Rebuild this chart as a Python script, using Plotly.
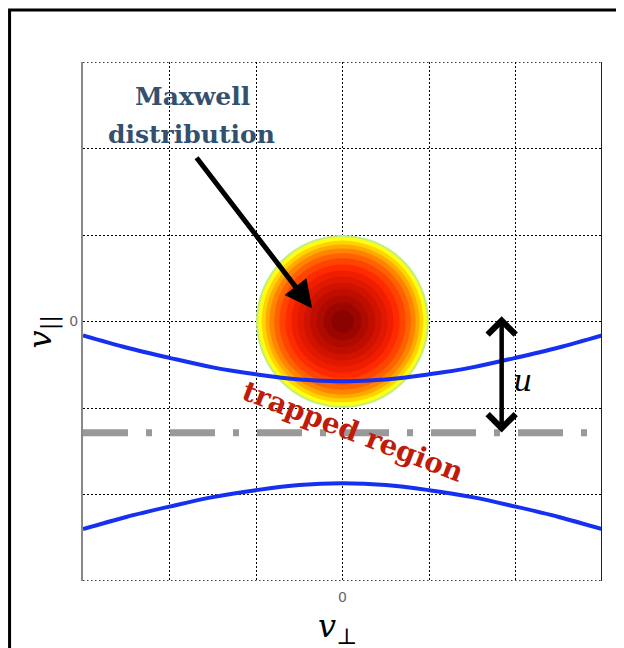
import plotly.graph_objects as go

# ---- data ----
curve_x = [-3.0, -2.5, -2.0, -1.5, -1.0, -0.5, 0.0, 0.5, 1.0, 1.5, 2.0, 2.5, 3.0]
upper_y = [-0.16, -0.30, -0.42, -0.53, -0.61, -0.67, -0.69, -0.67, -0.61, -0.53, -0.42, -0.30, -0.16]
lower_y = [-2.40, -2.26, -2.14, -2.03, -1.95, -1.89, -1.87, -1.89, -1.95, -2.03, -2.14, -2.26, -2.40]
trap_x = [-3.0, 3.0]
trap_y = [-1.285, -1.285]

# Maxwell distribution: filled contour rings (outer -> inner)
ring_radius = [1.00, 0.975, 0.935, 0.89, 0.845, 0.79, 0.73, 0.66, 0.59, 0.52, 0.45, 0.38, 0.30, 0.22, 0.13]
ring_color = ["#c4ee80", "#ffff10", "#ffd400", "#ffaa00", "#ff8400", "#ff6200", "#ff4400",
              "#ff2a00", "#f01e00", "#e01800", "#d01300", "#bf0e00", "#ad0a00", "#9c0600", "#8a0300"]
ring_center = (0.0, 0.0)

axis_range = [-3, 3]
grid_step = 1
tick_vals = [0]
tick_text = ["0"]

arrow_tail = (-1.70, 1.91)
arrow_tip = (-0.35, 0.15)
u_top = (1.84, 0.06)
u_bottom = (1.84, -1.30)

fig = go.Figure()

fig.add_trace(go.Scatter(x=curve_x, y=upper_y, mode="lines", line=dict(color="#1530f0", width=4, shape="spline"),
                         hoverinfo="skip", showlegend=False))
fig.add_trace(go.Scatter(x=curve_x, y=lower_y, mode="lines", line=dict(color="#1530f0", width=4, shape="spline"),
                         hoverinfo="skip", showlegend=False))
fig.add_trace(go.Scatter(x=trap_x, y=trap_y, mode="lines",
                         line=dict(color="#999999", width=7, dash="45px,18px,6px,18px"),
                         hoverinfo="skip", showlegend=False))

shapes = []
for r, c in zip(ring_radius, ring_color):
    shapes.append(dict(type="circle", xref="x", yref="y", layer="between",
                       x0=ring_center[0] - r, x1=ring_center[0] + r,
                       y0=ring_center[1] - r, y1=ring_center[1] + r,
                       fillcolor=c, line=dict(width=0)))
# top / bottom dotted box edges
for yv in axis_range:
    shapes.append(dict(type="line", xref="x", yref="y", x0=axis_range[0], x1=axis_range[1], y0=yv, y1=yv,
                       line=dict(color="black", width=1.3, dash="1.5px,2.5px"), layer="above"))
# right box edge solid black
shapes.append(dict(type="line", xref="x", yref="y", x0=axis_range[1], x1=axis_range[1],
                   y0=axis_range[0], y1=axis_range[1], line=dict(color="#222222", width=2), layer="above"))
# outer frame
shapes.append(dict(type="rect", xref="paper", yref="paper", x0=-0.1415, x1=1.25, y0=-0.25, y1=1.1,
                   line=dict(color="black", width=3), fillcolor="rgba(0,0,0,0)", layer="above"))

annotations = [
    dict(x=-1.73, y=2.60, xref="x", yref="y", text="Maxwell", showarrow=False,
         font=dict(family="DejaVu Serif", size=25, color="#34506f", weight="bold"),
         xanchor="center", yanchor="middle"),
    dict(x=-1.74, y=2.16, xref="x", yref="y", text="distribution", showarrow=False,
         font=dict(family="DejaVu Serif", size=25, color="#34506f", weight="bold"),
         xanchor="center", yanchor="middle"),
    dict(x=arrow_tip[0], y=arrow_tip[1], ax=arrow_tail[0], ay=arrow_tail[1], xref="x", yref="y",
         axref="x", ayref="y", text="", showarrow=True, arrowhead=2, arrowsize=1.1, arrowwidth=5,
         arrowcolor="black", standoff=0),
    dict(x=u_top[0], y=u_top[1], ax=u_bottom[0], ay=u_bottom[1], xref="x", yref="y",
         axref="x", ayref="y", text="", showarrow=True, arrowside="end+start", arrowhead=4,
         startarrowhead=4, arrowsize=1.2, startarrowsize=1.2, arrowwidth=4.5, arrowcolor="black",
         standoff=0, startstandoff=0),
    dict(x=2.08, y=-0.68, xref="x", yref="y", text="<i>u</i>", showarrow=False,
         font=dict(family="DejaVu Serif", size=30, color="black")),
    dict(x=0.12, y=-1.27, xref="x", yref="y", text="trapped region", showarrow=False, textangle=21,
         font=dict(family="DejaVu Serif", size=28, color="#c01c0c", weight="bold")),
    dict(x=0.491, y=-0.09, xref="paper", yref="paper", text="<i>v</i><sub>⊥</sub>", showarrow=False,
         xanchor="center", yanchor="middle",
         font=dict(family="DejaVu Serif", size=32, color="black")),
    dict(x=-0.078, y=0.48, xref="paper", yref="paper", text="<i>v</i><sub>||</sub>", showarrow=False,
         xanchor="center", yanchor="middle", textangle=-90,
         font=dict(family="DejaVu Serif", size=32, color="black")),
]

grid_style = dict(gridcolor="black", griddash="1.5px,2.5px", gridwidth=1)

fig.update_layout(
    width=624, height=648, autosize=False,
    margin=dict(l=75, r=30, t=54, b=75),
    paper_bgcolor="white", plot_bgcolor="white",
    shapes=shapes, annotations=annotations,
    xaxis=dict(range=axis_range, tickvals=tick_vals, ticktext=tick_text, showgrid=True, **grid_style,
               minor=dict(tick0=0, dtick=grid_step, showgrid=True, **grid_style),
               zeroline=False, showline=False,
               ticks="outside", ticklen=3, tickcolor="rgba(0,0,0,0)",
               tickfont=dict(family="DejaVu Sans", size=14, color="#666666")),
    yaxis=dict(range=axis_range, tickvals=tick_vals, ticktext=tick_text, showgrid=True, **grid_style,
               minor=dict(tick0=0, dtick=grid_step, showgrid=True, **grid_style),
               zeroline=False, showline=True, linecolor="#888888", linewidth=2, mirror=False,
               ticks="", tickfont=dict(family="DejaVu Sans", size=14, color="#666666")),
    showlegend=False,
)

fig.write_html("out.html")
